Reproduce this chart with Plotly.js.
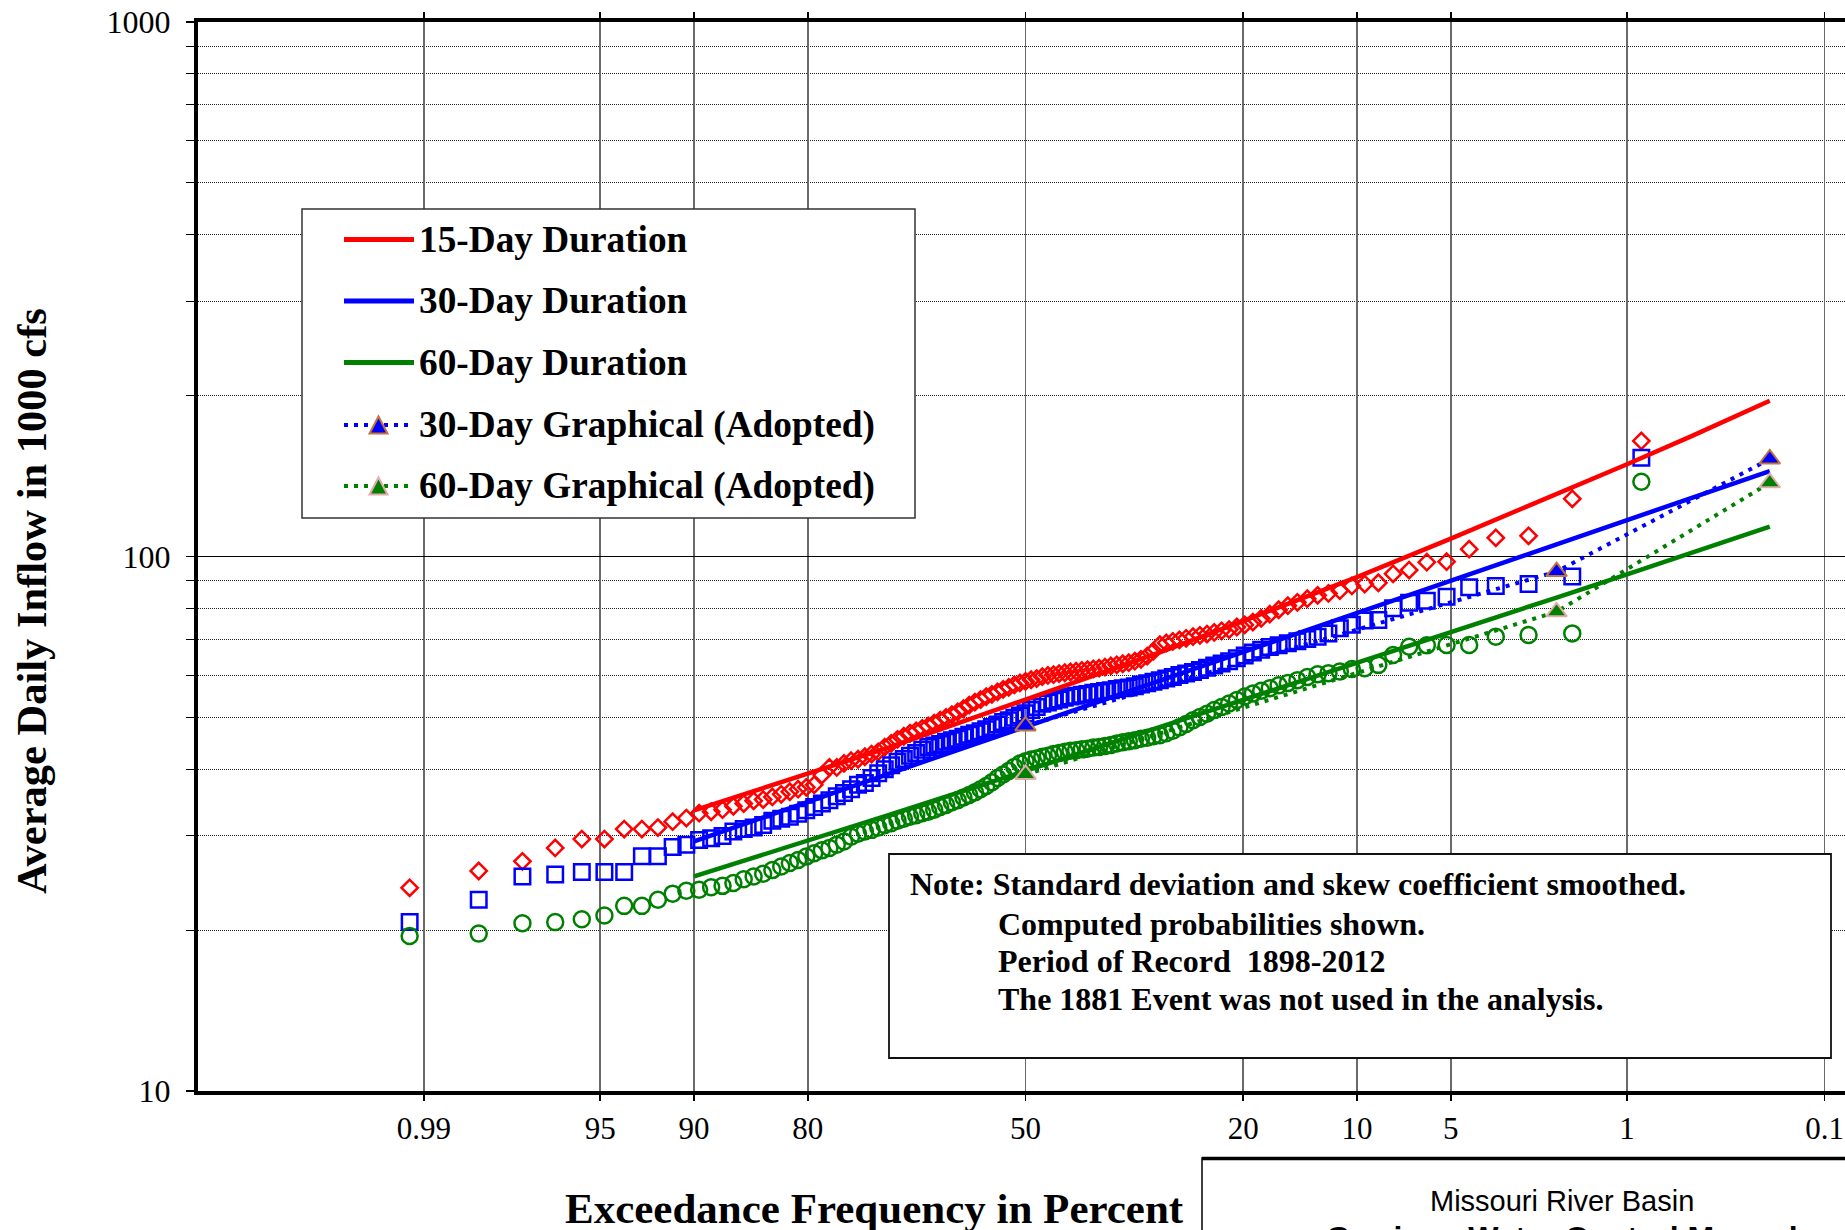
<!DOCTYPE html>
<html><head><meta charset="utf-8">
<script src="https://cdn.plot.ly/plotly-3.0.1.min.js"></script>
<style>html,body{margin:0;padding:0;overflow:hidden;background:#fff;}#chart{width:1900px;height:1300px;}</style>
</head><body><div id="chart"></div>
<script>
// ---------------- DATA ----------------
const nYears = 115; // period of record 1898-2012, ranked largest (rank 1) to smallest
const flow15 = [164.5,128.2,109.3,108.4,103.2,97.8,97.6,94.3,92.8,89.3,88.8,88.1,86.3,85.3,84.6,83.4,82.1,80.9,79.5,78.0,
76.6,75.4,74.5,73.8,73.0,72.6,72.1,71.6,71.2,70.8,70.3,69.8,69.4,68.9,68.4,66.5,65.1,64.2,63.7,63.3,
63.0,62.7,62.4,62.1,61.8,61.6,61.4,61.2,61.0,60.8,60.6,60.4,60.1,59.9,59.6,59.1,58.8,58.4,58.0,57.5,
56.9,56.4,55.8,55.2,54.7,54.0,53.4,52.7,51.9,51.2,50.6,50.0,49.4,48.8,48.2,47.7,47.2,46.7,46.1,45.5,
44.7,44.0,43.1,42.7,42.2,41.75,41.5,41.0,40.3,40.3,39.0,37.4,37.0,36.7,36.3,35.9,35.5,35.1,34.9,34.5,
34.1,33.6,33.3,33.1,32.4,31.9,31.1,30.9,30.9,29.6,29.6,28.5,26.9,25.8,24.0];
const flow30 = [153.0,91.7,88.8,88.1,87.6,84.1,82.6,81.9,80.0,76.1,75.9,74.5,73.4,71.8,70.8,70.1,69.4,68.8,68.2,67.7,
66.9,66.1,65.3,64.5,63.7,63.1,62.5,61.9,61.3,60.8,60.4,60.0,59.5,59.1,58.7,58.3,57.9,57.6,57.2,56.9,
56.7,56.5,56.2,56.0,55.8,55.6,55.3,55.1,54.9,54.7,54.4,54.0,53.7,53.3,53.0,52.3,51.6,50.9,50.4,49.9,
49.4,49.0,48.5,48.0,47.5,47.1,46.7,46.4,46.0,45.6,45.3,45.0,44.6,44.3,44.0,43.5,42.9,42.4,41.8,41.3,
40.7,40.0,39.3,38.5,37.7,37.4,36.7,36.1,35.6,35.0,34.5,34.0,33.5,33.0,32.6,32.3,32.05,31.45,31.1,30.9,
30.6,30.0,29.7,29.5,28.9,28.6,27.5,27.5,25.7,25.7,25.7,25.4,25.2,22.8,20.7];
const flow60 = [138.0,71.8,71.3,70.8,68.3,68.3,68.2,67.8,65.4,62.7,61.8,61.6,60.9,60.5,60.2,59.5,58.7,58.0,57.4,56.7,
56.1,55.4,54.7,53.9,53.1,52.3,51.6,50.8,50.1,49.4,48.6,47.9,47.2,46.7,46.3,46.1,45.8,45.6,45.3,45.1,
44.9,44.7,44.4,44.2,44.0,43.9,43.7,43.6,43.4,43.3,43.1,42.9,42.7,42.4,42.2,41.9,41.7,41.4,41.0,40.4,
39.7,39.1,38.5,37.8,37.2,36.7,36.2,35.8,35.4,35.0,34.7,34.3,34.0,33.6,33.3,33.1,32.8,32.6,32.3,32.05,
31.7,31.45,31.1,30.8,30.6,30.3,29.9,29.3,28.9,28.5,28.2,27.85,27.45,27.05,26.7,26.3,25.9,25.5,25.2,24.9,
24.5,24.2,24.05,23.8,23.7,23.4,22.8,22.2,22.2,21.3,20.95,20.7,20.6,19.7,19.5];

const curvePct = [90,80,70,50,30,20,10,5,2,1,0.5,0.2];
const curve15 = [33.5,39.2,44.0,54.0,66.3,75.7,91.5,108,130.6,148.8,168,195.6];
const curve30 = [29.3,34.8,39.3,48.0,58.7,66.2,78.4,90.0,105.4,117.0,128.7,144.5];
const curve60 = [25.2,29.4,32.9,39.7,48.0,53.8,63.1,72.1,83.8,92.6,101.6,113.7];

const graphPct = [50,2,0.2];
const graph30 = [48.2,93.7,152.2];
const graph60 = [39.1,78.8,137.4];

const tickPct = [99,95,90,80,50,20,10,5,1,0.1];
const tickText = ['0.99','95','90','80','50','20','10','5','1','0.1'];
const yTickVals = [10,100,1000];
const yMinorVals = [20,30,40,50,60,70,80,90,200,300,400,500,600,700,800,900];

const legendNames = ['15-Day Duration','30-Day Duration','60-Day Duration','30-Day Graphical (Adopted)','60-Day Graphical (Adopted)'];
const noteLines = ['Note: Standard deviation and skew coefficient smoothed.','Computed probabilities shown.','Period of Record  1898-2012','The 1881 Event was not used in the analysis.'];

// ---------------- probability scale ----------------
function normInv(p){
 const a=[-3.969683028665376e+01,2.209460984245205e+02,-2.759285104469687e+02,1.383577518672690e+02,-3.066479806614716e+01,2.506628277459239e+00];
 const b=[-5.447609879822406e+01,1.615858368580409e+02,-1.556989798598866e+02,6.680131188771972e+01,-1.328068155288572e+01];
 const c=[-7.784894002430293e-03,-3.223964580411365e-01,-2.400758277161838e+00,-2.549732539343734e+00,4.374664141464968e+00,2.938163982698783e+00];
 const d=[7.784695709041462e-03,3.224671290700398e-01,2.445134137142996e+00,3.754408661907416e+00];
 const pl=0.02425, ph=1-pl; let q,r;
 if(p<pl){q=Math.sqrt(-2*Math.log(p));return (((((c[0]*q+c[1])*q+c[2])*q+c[3])*q+c[4])*q+c[5])/((((d[0]*q+d[1])*q+d[2])*q+d[3])*q+1);}
 if(p<=ph){q=p-0.5;r=q*q;return (((((a[0]*r+a[1])*r+a[2])*r+a[3])*r+a[4])*r+a[5])*q/(((((b[0]*r+b[1])*r+b[2])*r+b[3])*r+b[4])*r+1);}
 q=Math.sqrt(-2*Math.log(1-p));return -(((((c[0]*q+c[1])*q+c[2])*q+c[3])*q+c[4])*q+c[5])/((((d[0]*q+d[1])*q+d[2])*q+d[3])*q+1);
}
const probX = pct => normInv(1 - pct/100);          // exceedance % -> normal deviate
const plotPos = flow15.map((v,i) => 100*(i+1)/(nYears+1)); // Weibull plotting position (computed probabilities)

// ---------------- layout geometry (pixels) ----------------
const W=1900, H=1300, ML=198, MR=47, MT=22, MB=209;
const PW=W-ML-MR, PH=H-MT-MB;
const px = x => (x-ML)/PW;
const py = y => (MT+PH-y)/PH;

const RED='#ff0000', BLUE='#0000ff', GREEN='#008000';
const serif='Liberation Serif, Times New Roman, serif';
const sans='Liberation Sans, Arial, sans-serif';

const traces = [
 {x:plotPos.map(probX), y:flow15, mode:'markers', marker:{symbol:'diamond-open',size:12.5,color:RED,line:{width:2.5,color:RED}}},
 {x:plotPos.map(probX), y:flow30, mode:'markers', marker:{symbol:'square-open',size:15.5,color:BLUE,line:{width:2.5,color:BLUE}}},
 {x:plotPos.map(probX), y:flow60, mode:'markers', marker:{symbol:'circle-open',size:16,color:GREEN,line:{width:2.5,color:GREEN}}},
 {x:curvePct.map(probX), y:curve15, mode:'lines', line:{color:RED,width:4.5}},
 {x:curvePct.map(probX), y:curve30, mode:'lines', line:{color:BLUE,width:4.5}},
 {x:curvePct.map(probX), y:curve60, mode:'lines', line:{color:GREEN,width:4.5}},
 {x:graphPct.map(probX), y:graph30, mode:'lines+markers', line:{color:BLUE,width:4,dash:'4px,6px'},
  marker:{symbol:'triangle-up',size:18,color:BLUE,line:{color:'#c0763a',width:2}}},
 {x:graphPct.map(probX), y:graph60, mode:'lines+markers', line:{color:GREEN,width:4,dash:'4px,6px'},
  marker:{symbol:'triangle-up',size:18,color:GREEN,line:{color:'#e2acac',width:2}}}
];
traces.forEach(t=>{t.showlegend=false; t.hoverinfo='skip'; t.cliponaxis=true;});

// ---------- legend (drawn manually) ----------
const shapes = [];
const annotations = [];
shapes.push({type:'rect',xref:'paper',yref:'paper',x0:px(302),x1:px(915),y0:py(209),y1:py(518),
 line:{color:'#333',width:1.5},fillcolor:'#fff',layer:'above'});
const rowY=[239.5,301,362.5,425,486];
const rowCol=[RED,BLUE,GREEN,BLUE,GREEN];
const triEdge=['','','','#c0763a','#e2acac'];
rowY.forEach((y,i)=>{
 const dotted=i>=3;
 shapes.push({type:'line',xref:'paper',yref:'paper',x0:px(344),x1:px(414),y0:py(y),y1:py(y),
  line:{color:rowCol[i],width:dotted?4:5,dash:dotted?'4px,6px':'solid'},layer:'above'});
 if(dotted){
  const cx=378.5, h=17, w=18;
  shapes.push({type:'path',xref:'paper',yref:'paper',layer:'above',
   path:`M ${px(cx-w/2)} ${py(y+h/2)} L ${px(cx+w/2)} ${py(y+h/2)} L ${px(cx)} ${py(y-h/2)} Z`,
   fillcolor:rowCol[i],line:{color:triEdge[i],width:2}});
 }
 annotations.push({xref:'paper',yref:'paper',x:px(417),y:py(y),xanchor:'left',yanchor:'middle',showarrow:false,
  text:'<b>'+legendNames[i]+'</b>',font:{family:serif,size:37.3,color:'#000'}});
});

// ---------- note box ----------
shapes.push({type:'rect',xref:'paper',yref:'paper',x0:px(889),x1:px(1831),y0:py(854),y1:py(1058),
 line:{color:'#111',width:1.8},fillcolor:'#fff',layer:'above'});
const noteY=[884,924,961,999];
noteLines.forEach((t,i)=>{
 annotations.push({xref:'paper',yref:'paper',x:px(i===0?908:996),y:py(noteY[i]),xanchor:'left',yanchor:'middle',showarrow:false,
  text:'<b>'+t+'</b>',font:{family:serif,size:32,color:'#000'}});
});

// ---------- axis titles ----------
annotations.push({xref:'paper',yref:'paper',x:px(31),y:py(601),textangle:-90,showarrow:false,xanchor:'center',yanchor:'middle',
 text:'<b>Average Daily Inflow in 1000 cfs</b>',font:{family:serif,size:42.5,color:'#000'}});
annotations.push({xref:'paper',yref:'paper',x:px(874),y:py(1208),showarrow:false,xanchor:'center',yanchor:'middle',
 text:'<b>Exceedance Frequency in Percent</b>',font:{family:serif,size:43,color:'#000'}});

// ---------- title block (bottom right, cut by the frame) ----------
shapes.push({type:'rect',xref:'paper',yref:'paper',x0:px(1202),x1:px(1960),y0:py(1158),y1:py(1400),
 line:{color:'#000',width:1.5},fillcolor:'rgba(0,0,0,0)',layer:'above'});
shapes.push({type:'line',xref:'paper',yref:'paper',x0:px(1202),x1:px(1960),y0:py(1158.5),y1:py(1158.5),
 line:{color:'#000',width:3.5},layer:'above'});
annotations.push({xref:'paper',yref:'paper',x:px(1562),y:py(1201),showarrow:false,xanchor:'center',yanchor:'middle',
 text:'Missouri River Basin',font:{family:sans,size:29,color:'#000'}});
annotations.push({xref:'paper',yref:'paper',x:px(1562),y:py(1238),showarrow:false,xanchor:'center',yanchor:'middle',
 text:'<b>Garrison Water Control Manual</b>',font:{family:sans,size:32,color:'#000'}});

const layout = {
 width:W, height:H, margin:{l:ML,r:MR,t:MT,b:MB,pad:0},
 paper_bgcolor:'#fff', plot_bgcolor:'#fff', showlegend:false,
 font:{family:serif,color:'#000'},
 xaxis:{range:[-3.2,3.2], tickmode:'array', tickvals:tickPct.map(probX), ticktext:tickText,
  showgrid:true, gridcolor:'#6a6a6a', gridwidth:1.5, zeroline:false,
  showline:true, linecolor:'#000', linewidth:4, mirror:'ticks',
  ticks:'outside', ticklen:6, tickwidth:1.5, tickcolor:'#000', ticklabelstandoff:1,
  tickfont:{family:serif,size:31,color:'#000'}, fixedrange:true},
 yaxis:{type:'log', range:[1,3], tickmode:'array', tickvals:yTickVals, ticktext:yTickVals.map(String),
  showgrid:true, gridcolor:'#000', gridwidth:1, zeroline:false,
  showline:true, linecolor:'#000', linewidth:4, mirror:'ticks',
  ticks:'outside', ticklen:8, tickwidth:1.5, tickcolor:'#000', ticklabelstandoff:9,
  tickfont:{family:serif,size:32,color:'#000'},
  minor:{tickmode:'array', tickvals:yMinorVals, showgrid:true, gridcolor:'#222', gridwidth:1, griddash:'1px,1px',
   ticks:'outside', ticklen:8, tickwidth:1, tickcolor:'#000'}, fixedrange:true},
 shapes:shapes, annotations:annotations
};
Plotly.newPlot('chart', traces, layout, {staticPlot:true, displayModeBar:false});
</script></body></html>
